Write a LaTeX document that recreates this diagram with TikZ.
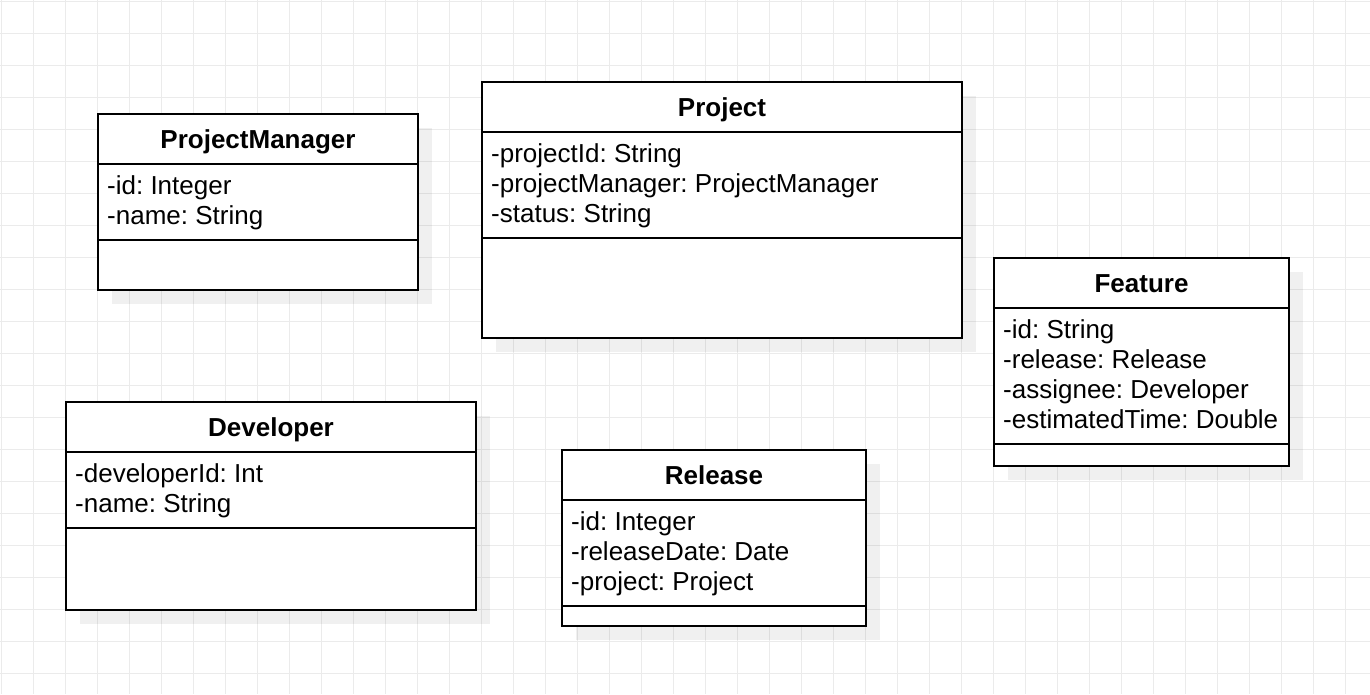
\documentclass[tikz,border=0pt]{standalone}
\usepackage{fontspec}
\setmainfont{Liberation Sans}
\usetikzlibrary{calc}
\frenchspacing
\begin{document}
\begin{tikzpicture}[x=1pt,y=-1pt,
  gridline/.style={draw={rgb,255:red,235;green,235;blue,235},line width=1.6pt},
  shadowbox/.style={fill=black,fill opacity=0.06,draw=none},
  classbox/.style={draw=black,fill=white,line width=2pt,inner sep=0pt,outer sep=0pt,anchor=north west},
  sepline/.style={draw=black,line width=2pt},
  titletext/.style={font=\fontsize{26}{30}\selectfont\bfseries\frenchspacing,inner sep=0pt,anchor=base},
  attrtext/.style={font=\fontsize{26}{30}\selectfont\frenchspacing,inner sep=0pt,anchor=base west}
]
\useasboundingbox (0,0) rectangle (1370,694);
\fill[white] (0,0) rectangle (1370,694);
\foreach \g in {1.5,33.5,...,1370} {\draw[gridline] (\g,0) -- (\g,694);}
\foreach \g in {1.5,33.5,...,694} {\draw[gridline] (0,\g) -- (1370,\g);}

% shadows
\fill[shadowbox] (112,128) rectangle (432,304);
\fill[shadowbox] (496,96) rectangle (976,352);
\fill[shadowbox] (1008,272) rectangle (1303,480);
\fill[shadowbox] (80,416) rectangle (490,624);
\fill[shadowbox] (576,464) rectangle (880,640);

% ProjectManager
\node[classbox,minimum width=320pt,minimum height=176pt] (pm) at (98,114) {};
\draw[sepline] ($(pm.north west)+(0,50)$) -- ($(pm.north east)+(0,50)$);
\draw[sepline] ($(pm.north west)+(0,126)$) -- ($(pm.north east)+(0,126)$);
\node[titletext] (pmT) at ($(pm.north)+(0,34.5)$) {ProjectManager};
\node[attrtext] (pmA) at ($(pm.north west)+(9,80.5)$) {-id: Integer};
\node[attrtext] (pmB) at ($(pm.north west)+(9,110.5)$) {-name: String};

% Project
\node[classbox,minimum width=480pt,minimum height=256pt] (pr) at (482,82) {};
\draw[sepline] ($(pr.north west)+(0,50)$) -- ($(pr.north east)+(0,50)$);
\draw[sepline] ($(pr.north west)+(0,156)$) -- ($(pr.north east)+(0,156)$);
\node[titletext] (prT) at ($(pr.north)+(0,34.5)$) {Project};
\node[attrtext] (prA) at ($(pr.north west)+(9,80.5)$) {-projectId: String};
\node[attrtext] (prB) at ($(pr.north west)+(9,110.5)$) {-projectManager: ProjectManager};
\node[attrtext] (prC) at ($(pr.north west)+(9,140.5)$) {-status: String};

% Feature
\node[classbox,minimum width=295pt,minimum height=208pt] (fe) at (994,258) {};
\draw[sepline] ($(fe.north west)+(0,50)$) -- ($(fe.north east)+(0,50)$);
\draw[sepline] ($(fe.north west)+(0,186)$) -- ($(fe.north east)+(0,186)$);
\node[titletext] (feT) at ($(fe.north)+(0,34.5)$) {Feature};
\node[attrtext] (feA) at ($(fe.north west)+(9,80.5)$) {-id: String};
\node[attrtext] (feB) at ($(fe.north west)+(9,110.5)$) {-release: Release};
\node[attrtext] (feC) at ($(fe.north west)+(9,140.5)$) {-assignee: Developer};
\node[attrtext] (feD) at ($(fe.north west)+(9,170.5)$) {-estimatedTime: Double};

% Developer
\node[classbox,minimum width=410pt,minimum height=208pt] (de) at (66,402) {};
\draw[sepline] ($(de.north west)+(0,50)$) -- ($(de.north east)+(0,50)$);
\draw[sepline] ($(de.north west)+(0,126)$) -- ($(de.north east)+(0,126)$);
\node[titletext] (deT) at ($(de.north)+(0,34.5)$) {Developer};
\node[attrtext] (deA) at ($(de.north west)+(9,80.5)$) {-developerId: Int};
\node[attrtext] (deB) at ($(de.north west)+(9,110.5)$) {-name: String};

% Release
\node[classbox,minimum width=304pt,minimum height=176pt] (re) at (562,450) {};
\draw[sepline] ($(re.north west)+(0,50)$) -- ($(re.north east)+(0,50)$);
\draw[sepline] ($(re.north west)+(0,156)$) -- ($(re.north east)+(0,156)$);
\node[titletext] (reT) at ($(re.north)+(0,34.5)$) {Release};
\node[attrtext] (reA) at ($(re.north west)+(9,80.5)$) {-id: Integer};
\node[attrtext] (reB) at ($(re.north west)+(9,110.5)$) {-releaseDate: Date};
\node[attrtext] (reC) at ($(re.north west)+(9,140.5)$) {-project: Project};
\end{tikzpicture}
\end{document}
